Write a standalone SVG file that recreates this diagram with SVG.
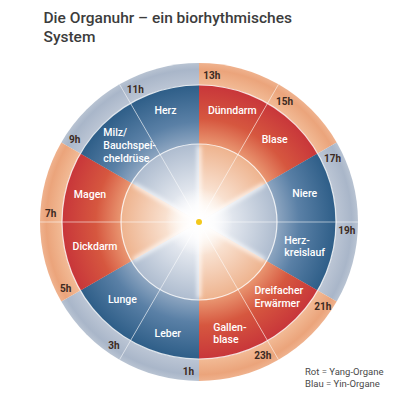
<svg xmlns="http://www.w3.org/2000/svg" width="396" height="400" viewBox="0 0 396 400">
  <defs>
    <radialGradient id="gYinOuter" gradientUnits="userSpaceOnUse" cx="199" cy="222" r="159">
      <stop offset="0.86" stop-color="#bcc6d5"/>
      <stop offset="0.96" stop-color="#a9b6c9"/>
      <stop offset="1" stop-color="#b8c3d2"/>
    </radialGradient>
    <radialGradient id="gYangOuter" gradientUnits="userSpaceOnUse" cx="199" cy="222" r="159">
      <stop offset="0.86" stop-color="#f2bb96"/>
      <stop offset="0.96" stop-color="#eba47b"/>
      <stop offset="1" stop-color="#efb28e"/>
    </radialGradient>
    <radialGradient id="gYinOrgan" gradientUnits="userSpaceOnUse" cx="199" cy="222" r="159">
      <stop offset="0.49" stop-color="#8ea6c1"/>
      <stop offset="0.63" stop-color="#5a80a6"/>
      <stop offset="0.86" stop-color="#2e5e88"/>
    </radialGradient>
    <radialGradient id="gYangOrgan" gradientUnits="userSpaceOnUse" cx="199" cy="222" r="159">
      <stop offset="0.49" stop-color="#e99671"/>
      <stop offset="0.65" stop-color="#d6573f"/>
      <stop offset="0.86" stop-color="#c8363a"/>
    </radialGradient>
    <radialGradient id="gYinInner" gradientUnits="userSpaceOnUse" cx="199" cy="222" r="78">
      <stop offset="0" stop-color="#ffffff"/>
      <stop offset="0.2" stop-color="#f6f7fa"/>
      <stop offset="1" stop-color="#aebccf"/>
    </radialGradient>
    <radialGradient id="gYangInner" gradientUnits="userSpaceOnUse" cx="199" cy="222" r="78">
      <stop offset="0" stop-color="#ffffff"/>
      <stop offset="0.2" stop-color="#fdf3ea"/>
      <stop offset="1" stop-color="#eeb38e"/>
    </radialGradient>
    <radialGradient id="gGlow" gradientUnits="userSpaceOnUse" cx="199" cy="222" r="34">
      <stop offset="0" stop-color="#ffffff" stop-opacity="1"/>
      <stop offset="0.5" stop-color="#ffffff" stop-opacity="0.6"/>
      <stop offset="1" stop-color="#ffffff" stop-opacity="0"/>
    </radialGradient>
    <filter id="soft" x="-20%" y="-20%" width="140%" height="140%">
      <feGaussianBlur stdDeviation="2"/>
    </filter>
  </defs>
  <style>
    .title { font-family: Roboto, "Liberation Sans", sans-serif; font-weight: 500; font-size: 15.5px; fill: #3c3c3c; }
    .organ { font-family: Roboto, "Liberation Sans", sans-serif; font-weight: 500; font-size: 10.5px; fill: #ffffff; }
    .mid { text-anchor: middle; }
    .hour { font-family: Roboto, "Liberation Sans", sans-serif; font-weight: 700; font-size: 10px; fill: #3b2a22; }
    .legend { font-family: Roboto, "Liberation Sans", sans-serif; font-weight: 400; font-size: 9.5px; fill: #4a4a4a; }
    .yin { fill: url(#gYinOrgan); }
    .yang { fill: url(#gYangOrgan); }
    .div { stroke: #ffffff; stroke-opacity: 0.55; stroke-width: 1; fill: none; }
    .ring { stroke: #ffffff; stroke-opacity: 0.8; stroke-width: 1.2; fill: none; }
    .streak { stroke: #ffffff; stroke-opacity: 0.8; stroke-width: 4; fill: none; }
  </style>

  <rect width="396" height="400" fill="#ffffff"/>

  <g id="title">
    <text class="title" x="43.5" y="22.7">Die Organuhr – ein biorhythmisches</text>
    <text class="title" x="43.5" y="41.7">System</text>
  </g>

  <!-- outer hour ring (background wedges) -->
  <g id="outer-ring">
    <path fill="url(#gYinOuter)" d="M199,222 L61.3,142.5 A159,159 0 0 1 199,63 Z"/>
    <path fill="url(#gYangOuter)" d="M199,222 L199,63 A159,159 0 0 1 336.7,142.5 Z"/>
    <path fill="url(#gYinOuter)" d="M199,222 L336.7,142.5 A159,159 0 0 1 336.7,301.5 Z"/>
    <path fill="url(#gYangOuter)" d="M199,222 L336.7,301.5 A159,159 0 0 1 199,381 Z"/>
    <path fill="url(#gYinOuter)" d="M199,222 L199,381 A159,159 0 0 1 61.3,301.5 Z"/>
    <path fill="url(#gYangOuter)" d="M199,222 L61.3,301.5 A159,159 0 0 1 61.3,142.5 Z"/>
  </g>

  <!-- inner disc -->
  <g id="inner-disc">
    <path fill="url(#gYinInner)" d="M199,222 L131.45,183 A78,78 0 0 1 199,144 Z"/>
    <path fill="url(#gYangInner)" d="M199,222 L199,144 A78,78 0 0 1 266.55,183 Z"/>
    <path fill="url(#gYinInner)" d="M199,222 L266.55,183 A78,78 0 0 1 266.55,261 Z"/>
    <path fill="url(#gYangInner)" d="M199,222 L266.55,261 A78,78 0 0 1 199,300 Z"/>
    <path fill="url(#gYinInner)" d="M199,222 L199,300 A78,78 0 0 1 131.45,261 Z"/>
    <path fill="url(#gYangInner)" d="M199,222 L131.45,261 A78,78 0 0 1 131.45,183 Z"/>
    <g filter="url(#soft)">
      <path class="streak" d="M199,222 L199,146 M199,222 L264.8,184 M199,222 L264.8,260 M199,222 L199,298 M199,222 L133.2,260 M199,222 L133.2,184"/>
    </g>
    <circle cx="199" cy="222" r="34" fill="url(#gGlow)"/>
  </g>

  <g id="herz">
    <path class="yin" d="M130.5,103.36 A137,137 0 0 1 199,85 L199,144 A78,78 0 0 0 160,154.45 Z"/>
    <text class="organ mid" x="165.5" y="114">Herz</text>
  </g>
  <g id="duenndarm">
    <path class="yang" d="M199,85 A137,137 0 0 1 267.5,103.36 L238,154.45 A78,78 0 0 0 199,144 Z"/>
    <text class="organ mid" x="232.3" y="114">Dünndarm</text>
  </g>
  <g id="blase">
    <path class="yang" d="M267.5,103.36 A137,137 0 0 1 317.64,153.5 L266.55,183 A78,78 0 0 0 238,154.45 Z"/>
    <text class="organ mid" x="274.7" y="143.3">Blase</text>
  </g>
  <g id="niere">
    <path class="yin" d="M317.64,153.5 A137,137 0 0 1 336,222 L277,222 A78,78 0 0 0 266.55,183 Z"/>
    <text class="organ mid" x="304.7" y="197.3">Niere</text>
  </g>
  <g id="herzkreislauf">
    <path class="yin" d="M336,222 A137,137 0 0 1 317.64,290.5 L266.55,261 A78,78 0 0 0 277,222 Z"/>
    <text class="organ" x="284.3" y="244.3">Herz-</text>
    <text class="organ" x="284.3" y="256.3">kreislauf</text>
  </g>
  <g id="dreifacher-erwaermer">
    <path class="yang" d="M317.64,290.5 A137,137 0 0 1 267.5,340.64 L238,289.55 A78,78 0 0 0 266.55,261 Z"/>
    <text class="organ" x="254.5" y="294.3">Dreifacher</text>
    <text class="organ" x="254.5" y="306.6">Erwärmer</text>
  </g>
  <g id="gallenblase">
    <path class="yang" d="M267.5,340.64 A137,137 0 0 1 199,359 L199,300 A78,78 0 0 0 238,289.55 Z"/>
    <text class="organ" x="213.3" y="331.2">Gallen-</text>
    <text class="organ" x="213.3" y="343.2">blase</text>
  </g>
  <g id="leber">
    <path class="yin" d="M199,359 A137,137 0 0 1 130.5,340.64 L160,289.55 A78,78 0 0 0 199,300 Z"/>
    <text class="organ mid" x="167.8" y="337.3">Leber</text>
  </g>
  <g id="lunge">
    <path class="yin" d="M130.5,340.64 A137,137 0 0 1 80.36,290.5 L131.45,261 A78,78 0 0 0 160,289.55 Z"/>
    <text class="organ mid" x="122.5" y="302.7">Lunge</text>
  </g>
  <g id="dickdarm">
    <path class="yang" d="M80.36,290.5 A137,137 0 0 1 62,222 L121,222 A78,78 0 0 0 131.45,261 Z"/>
    <text class="organ mid" x="95" y="250">Dickdarm</text>
  </g>
  <g id="magen">
    <path class="yang" d="M62,222 A137,137 0 0 1 80.36,153.5 L131.45,183 A78,78 0 0 0 121,222 Z"/>
    <text class="organ mid" x="90" y="198.3">Magen</text>
  </g>
  <g id="milz-bauchspeicheldruese">
    <path class="yin" d="M80.36,153.5 A137,137 0 0 1 130.5,103.36 L160,154.45 A78,78 0 0 0 131.45,183 Z"/>
    <text class="organ" x="103.3" y="135.5">Milz/</text>
    <text class="organ" x="103.3" y="149">Bauchspei-</text>
    <text class="organ" x="103.3" y="162">cheldrüse</text>
  </g>

  <!-- divider lines -->
  <g id="connectors">
    <circle class="ring" cx="199" cy="222" r="137"/>
    <circle class="ring" cx="199" cy="222" r="78"/>
    <path class="div" d="M278.5,84.3 L204,213.3 M358,222 L209,222 M278.5,359.7 L204,230.7 M119.5,359.7 L194,230.7 M40,222 L189,222 M119.5,84.3 L194,213.3"/>
  </g>

  <circle id="center" cx="199" cy="222" r="3" fill="#f3c81c"/>

  <g id="hours">
    <text class="hour" x="203.3" y="79">13h</text>
    <text class="hour" x="276" y="105">15h</text>
    <text class="hour" x="324" y="161.7">17h</text>
    <text class="hour" x="338.3" y="234">19h</text>
    <text class="hour" x="314.3" y="310">21h</text>
    <text class="hour" x="254.3" y="359">23h</text>
    <text class="hour" x="182.7" y="375">1h</text>
    <text class="hour" x="108.3" y="349.3">3h</text>
    <text class="hour" x="60" y="291.7">5h</text>
    <text class="hour" x="45" y="216.7">7h</text>
    <text class="hour" x="69" y="142.7">9h</text>
    <text class="hour" x="126.7" y="93">11h</text>
  </g>

  <g id="legend">
    <text class="legend" x="305" y="375">Rot = Yang-Organe</text>
    <text class="legend" x="305" y="386.7">Blau = Yin-Organe</text>
  </g>
</svg>
